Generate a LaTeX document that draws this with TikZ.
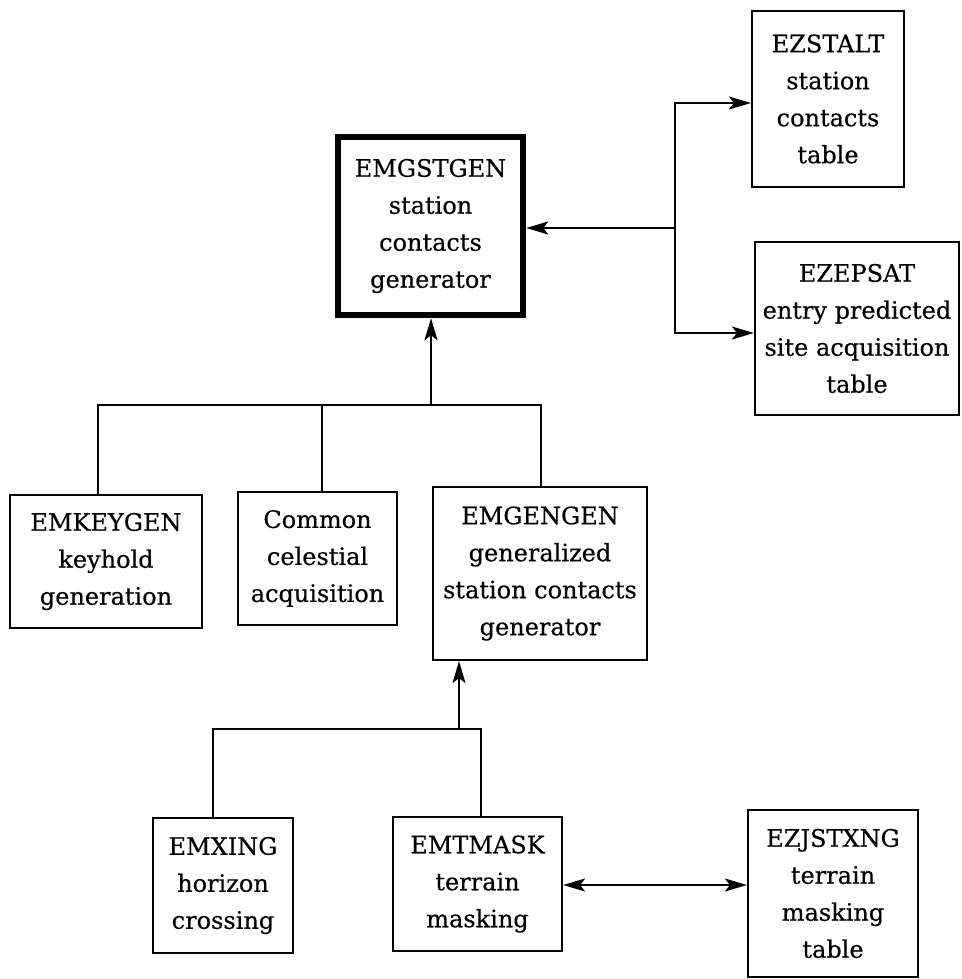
\documentclass[tikz,border=0pt]{standalone}
\usepackage{fontspec}
\setmainfont{DejaVu Serif}[FakeBold=0.4]
\usetikzlibrary{arrows.meta}
\tikzset{
  box/.style={draw, line width=2.2pt, align=center, inner sep=0pt,
    font=\fontsize{24}{37}\selectfont},
  mainbox/.style={box, line width=6.5pt},
  ln/.style={line width=2pt},
  arr/.style={ln, -{Stealth[length=22pt,width=13pt,inset=5pt]}},
  darr/.style={ln, {Stealth[length=22pt,width=13pt,inset=5pt]}-{Stealth[length=22pt,width=13pt,inset=5pt]}}
}
\begin{document}
\begin{tikzpicture}[x=1pt,y=-1pt]
\useasboundingbox (0,0) rectangle (961,979);
\node[mainbox, minimum width=185pt, minimum height=178pt] (gst) at (430.5,226)
  {EMGSTGEN\\station\\contacts\\generator};
\node[box, minimum width=152pt, minimum height=176pt] (stalt) at (828,99)
  {EZSTALT\\station\\contacts\\table};
\node[box, minimum width=204pt, minimum height=173pt] (epsat) at (857,328.5)
  {EZEPSAT\\entry predicted\\site acquisition\\table};
\node[box, minimum width=192pt, minimum height=133pt] (key) at (106,561.5)
  {EMKEYGEN\\keyhold\\generation};
\node[box, minimum width=159pt, minimum height=133pt] (com) at (317.5,558.5)
  {Common\\celestial\\acquisition};
\node[box, minimum width=214pt, minimum height=173pt] (gen) at (540,573.5)
  {EMGENGEN\\generalized\\station contacts\\generator};
\node[box, minimum width=140pt, minimum height=135pt] (xing) at (223,885.5)
  {EMXING\\horizon\\crossing};
\node[box, minimum width=169pt, minimum height=134pt] (mask) at (477.5,884)
  {EMTMASK\\terrain\\masking};
\node[box, minimum width=170pt, minimum height=167pt] (jst) at (833,893.5)
  {EZJSTXNG\\terrain\\masking\\table};
% right branch
\coordinate (r1) at (675,228);
\draw[arr] (r1) -- (r1 -| gst.east);
\draw[arr] (r1) |- ([yshift=-4pt]stalt.west);
\draw[arr] (r1) |- ([yshift=-4.5pt]epsat.west);
% upper bus
\coordinate (b1) at (431,405);
\draw[ln] ([xshift=-8pt]key.north) |- (b1) -| ([xshift=1pt]gen.north);
\draw[ln] ([xshift=4.5pt]com.north) -- ([xshift=4.5pt]com.north |- b1);
\draw[arr] (b1) -- (b1 |- gst.south);
% lower bus
\coordinate (b2) at (459,729);
\draw[ln] ([xshift=-10pt]xing.north) |- (b2) -| ([xshift=3.5pt]mask.north);
\draw[arr] (b2) -- (b2 |- gen.south);
% terrain masking table
\draw[darr] ([yshift=-1pt]mask.east) -- ([yshift=-1pt]mask.east -| jst.west);
\end{tikzpicture}
\end{document}
